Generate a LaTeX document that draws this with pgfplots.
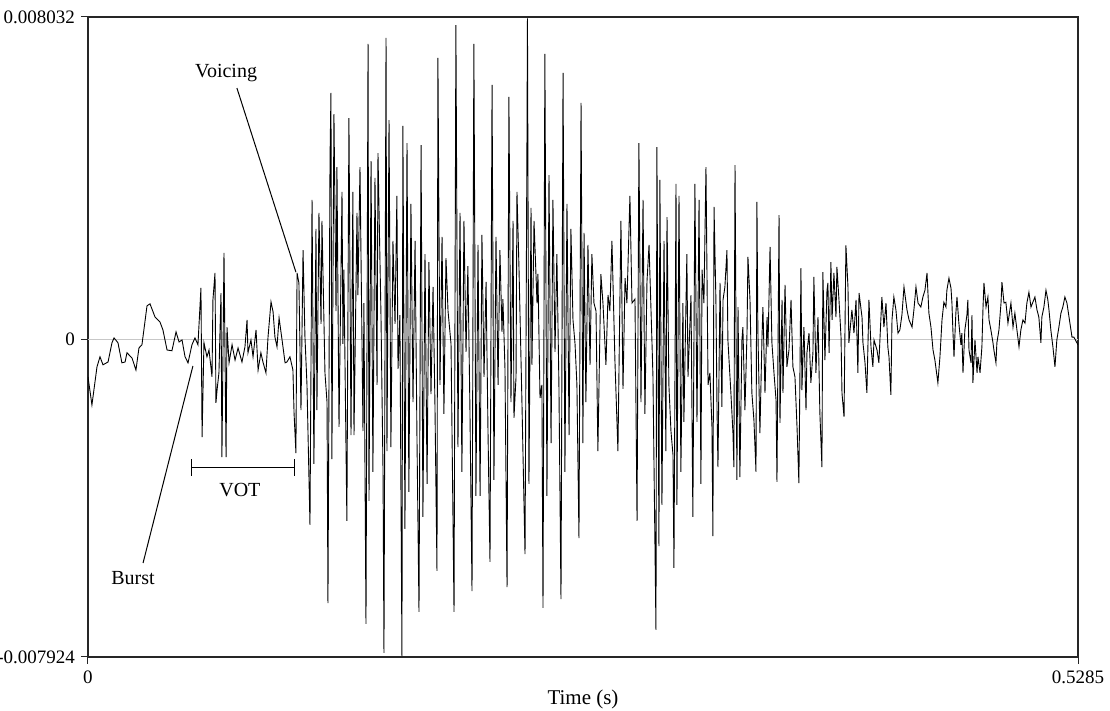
\documentclass[border=0pt]{standalone}
\usepackage{fontspec}
\setmainfont{Liberation Serif}
\usepackage{pgfplots}
\pgfplotsset{compat=1.18}

% time in ms, amplitude in units of 1e-5
\begin{document}
\begin{tikzpicture}
\begin{axis}[
  name=ax,
  scale only axis,
  width=495pt, height=320pt,
  xmin=0, xmax=528.5,
  ymin=-792.4, ymax=803.2,
  xtick={0,528.5}, xticklabels={0,0.5285},
  ytick={-792.4,0,803.2}, yticklabels={-0.007924,0,0.008032},
  xtick pos=lower, ytick pos=left,
  tick align=outside,
  major tick length=3.5pt,
  ticklabel style={font=\fontsize{9.5}{11}\selectfont},
  y tick label style={xshift=0.5pt},
  /pgf/number format/assume math mode=true,
  xlabel={Time (s)},
  xlabel style={font=\fontsize{10.5}{12}\selectfont, yshift=4pt},
  axis line style={black!85, line width=0.6pt},
  tick style={black!85, line width=0.5pt},
]
\draw[black!22, line width=0.5pt] (axis cs:0,0) -- (axis cs:528.5,0);
\addplot[black, line width=0.45pt] coordinates {
(0,-94) (2.1,-164) (4.8,-69) (6.4,-44) (8.0,-64) (10.7,-57) (12.8,-9) (13.9,3)
(16.0,-9) (18.1,-59) (19.8,-57) (20.8,-34) (23.5,-47) (25.6,-77) (27.2,-22) (28.8,-14)
(31.5,83) (33.1,88) (35.8,55) (38.4,43) (40.0,23) (42.2,-27) (44.8,-29) (47.0,18)
(48.6,-7) (50.2,-2) (51.8,-44) (53.4,-59) (55.5,-14) (57.1,3) (58.7,-14) (60.3,128)
(60.9,-244) (61.9,-9) (63.5,-44) (64.6,-27) (66.2,-94) (66.7,98) (67.8,165) (68.3,-159)
(68.9,-127) (69.9,-84) (71.0,115) (71.5,-294) (72.6,215) (73.7,-294) (74.2,30) (75.3,-59)
(76.9,-14) (78.5,-52) (80.1,-22) (82.2,-57) (83.8,-19) (84.9,48) (85.4,-34) (87.0,-2)
(88.1,-44) (89.7,23) (90.8,-77) (92.3,-34) (93.4,-57) (95.0,-84) (96.1,5) (97.7,93)
(98.8,68) (99.8,5) (100.9,-19) (102.0,53) (103.6,-2) (105.2,-59) (106.2,-57) (107.8,-44)
(109.4,-77) (110.0,-184) (111.0,-284) (111.6,165) (112.6,140)
(113.7,-177) (114.8,222) (115.8,8) (116.9,-114) (118.5,-463) (119.6,347) (120.6,-311) (121.7,275)
(122.2,-177) (123.3,315) (124.4,38) (124.9,295) (126.5,-84) (127.6,-157) (128.1,-658) (129.2,449)
(129.7,614) (130.2,-299) (131.3,561) (132.4,70) (132.9,429) (134.0,-219) (135.6,367) (136.1,-12)
(136.6,173) (138.2,-453) (139.3,551) (140.4,-239) (141.4,367) (142.0,-239) (143.6,315) (144.1,110)
(145.2,429) (146.8,-229) (147.3,90) (148.4,-710) (149.5,736) (150.0,-403) (151.1,444) (152.1,-331)
(153.2,402) (154.3,-114) (154.8,464) (156.4,60) (157.5,-331) (158.0,-782) (159.1,751) (159.6,-279)
(160.7,546) (161.7,-269) (162.8,245) (163.9,38) (164.9,357) (165.5,-74) (166.5,60) (167.6,-790)
(168.1,532) (169.2,-473) (170.3,489) (171.3,-381) (172.4,337) (173.5,-157) (174.6,245) (175.6,-239)
(176.7,-680) (177.8,484) (178.8,-443) (179.9,212) (181.0,-361) (182.0,192) (183.1,-137) (184.2,130)
(185.2,-157) (186.3,-578) (186.8,701) (187.9,-114) (189.0,255) (190.0,-186) (191.1,202) (192.2,70)
(193.8,-12) (195.4,-680) (196.4,783) (197.5,-269) (198.6,315) (199.6,-331) (200.7,295) (201.8,-32)
(202.8,182) (203.9,-177) (205.0,-628) (206.0,736) (207.1,-391) (208.2,235) (209.3,-391) (210.3,260)
(211.4,-94) (212.5,143) (213.5,-219) (214.6,-555) (215.7,634) (216.7,-351) (217.8,255) (218.9,-114)
(219.9,222) (221.0,18) (221.5,100) (222.6,-74) (223.7,-618) (224.7,604) (225.8,-157) (226.9,295)
(227.4,-196) (228.5,-94) (229.0,367) (230.1,173) (231.7,-167) (233.3,-536) (234.3,459) (234.6,800)
(235.4,-361) (236.5,327) (237.0,-64) (238.1,295) (239.7,90) (240.2,163) (241.3,-147) (242.3,-114)
(242.9,-670) (243.9,711) (245.0,-391) (246.1,409) (247.2,-259) (248.2,347) (249.3,-32) (250.3,212)
(251.4,-114) (252.5,-648) (253.6,664) (254.6,-331) (255.7,337) (256.8,-239) (257.8,275) (258.9,48)
(260.0,-12) (261.0,-114) (262.1,-496) (263.2,589) (264.2,-259) (264.8,265) (265.8,-157) (266.9,235)
(268.0,-64) (269.0,212) (270.1,90) (271.2,70) (272.2,-279) (273.8,162) (274.9,90) (276.5,-64)
(277.6,110) (278.6,70) (279.7,245) (281.3,-54) (282.9,-279) (284.5,295) (285.6,-124) (286.7,152)
(287.7,90) (289.3,357) (290.4,90) (292.0,100) (293.1,-453) (294.1,489) (295.2,-157) (296.3,347)
(297.3,-186) (298.4,143) (299.5,235) (301.1,-12) (301.6,-94) (303.2,-725) (303.7,479) (304.8,-516)
(305.3,397) (306.4,-413) (307.5,245) (308.5,-279) (309.1,304) (310.1,-114) (311.2,-229) (312.3,-289)
(312.8,-570) (313.9,387) (314.4,-413) (315.5,357) (316.5,-331) (317.6,90) (318.1,-206) (319.7,212)
(320.3,-94) (321.9,110) (322.9,-443) (324.0,387) (325.1,-206) (326.2,347) (327.2,-361) (327.8,173)
(328.8,90) (329.9,429) (331.0,-114) (332.0,-84) (333.1,-219) (333.6,-491) (334.2,330) (335.2,98)
(335.8,-177) (336.3,-319) (337.4,140) (338.4,-169) (339.0,98) (340.0,130) (341.1,222) (341.6,-2)
(343.2,-134) (344.3,-234) (344.8,-319) (345.4,434) (346.4,-351) (347.0,80) (348.0,-344) (349.1,-2)
(349.6,30) (350.7,-177) (351.8,15) (352.3,205) (353.4,98) (354.4,-134) (355.5,-202) (356.6,-331)
(357.1,342) (357.6,23) (358.7,-234) (359.8,5) (360.3,80) (361.4,-134) (362.5,55) (363.0,-20)
(364.1,230) (365.1,-9) (366.2,-84) (367.3,-152) (367.8,-356) (368.9,309) (369.4,-209) (370.5,98)
(371.0,-134) (372.1,135) (373.1,-69) (374.2,-27) (375.3,98) (376.3,-69) (377.4,-94) (378.5,-219)
(379.5,-359) (380.6,177) (381.1,-127) (382.2,30) (383.3,-177) (383.8,-34) (384.9,15) (385.9,-109)
(387.0,-34) (387.5,155) (388.6,-84) (389.7,55) (390.7,-184) (391.8,-319) (392.3,167) (393.4,-52)
(394.5,122) (395.0,140) (395.6,-34) (396.6,192) (397.2,48) (398.2,165) (399.3,55) (399.8,180)
(400.9,98) (402.0,5) (402.5,-134) (403.6,-194) (404.6,234) (405.7,130) (406.2,-9) (407.8,73)
(408.9,15) (410.0,98) (411.0,-84) (411.6,115) (413.2,55) (413.7,-9) (414.8,-59) (415.8,-134)
(416.9,98) (418.0,-20) (419.0,-69) (419.6,-2) (421.2,-27) (422.2,-59) (423.8,105) (424.9,30)
(426.0,90) (427.0,-20) (427.6,-44) (428.6,-139) (429.2,48) (430.2,105) (431.3,73) (432.4,15)
(433.4,23) (434.5,60) (435.6,130) (437.2,73) (438.3,48) (439.9,30) (440.9,73) (442.0,130)
(443.1,90) (444.6,80) (445.7,105) (446.8,122) (447.9,165) (448.9,65) (450.0,30) (451.1,-27)
(452.1,-52) (453.7,-109) (454.8,-44) (455.9,48) (456.9,92) (458.0,80) (458.5,122) (459.6,152)
(460.7,127) (461.2,90) (461.7,23) (462.3,-44) (463.3,65) (463.9,105) (464.9,40) (466.0,-14)
(466.5,15) (467.1,-84) (468.1,23) (469.2,60) (469.7,98) (470.3,-27) (471.4,-59) (471.9,60)
(472.4,-109) (473.5,-2) (474.6,-84) (475.1,-44) (476.2,-84) (477.2,-19) (477.8,80) (478.3,140)
(479.4,80) (480.4,105) (481.0,48) (482.0,23) (483.1,-9) (483.6,-27) (484.7,-59) (485.2,-9)
(486.3,23) (487.4,90) (487.9,142) (489.0,90) (490.0,92) (491.1,40) (492.7,90) (493.8,30)
(494.8,65) (495.9,23) (497.0,-19) (498.0,23) (499.1,48) (500.2,40) (501.2,90) (502.3,117)
(503.4,80) (504.4,92) (505.5,105) (506.6,73) (507.6,55) (508.7,-9) (509.2,55) (510.3,80)
(511.4,122) (512.4,98) (513.0,73) (514.0,23) (515.1,-19) (516.2,-69) (517.2,-2) (518.3,30)
(519.4,65) (520.4,80) (521.5,105) (522.6,90) (523.7,55) (525.3,5) (526.3,5) (527.9,-9)
(528.5,-14)
};
% annotations
\node[font=\fontsize{10}{12}\selectfont] at (axis cs:73.7,664) {Voicing};
\draw[black, line width=0.5pt] (axis cs:79.5,626) -- (axis cs:111.0,167);
\node[font=\fontsize{10}{12}\selectfont] at (axis cs:24.0,-596) {Burst};
\draw[black, line width=0.5pt] (axis cs:29.4,-558) -- (axis cs:56.0,-67);
\draw[black, line width=0.5pt] (axis cs:55.0,-319) -- (axis cs:110.5,-319);
\draw[black, line width=0.5pt] (axis cs:55.0,-299) -- (axis cs:55.0,-341);
\draw[black, line width=0.5pt] (axis cs:110.5,-299) -- (axis cs:110.5,-341);
\node[font=\fontsize{10}{12}\selectfont] at (axis cs:81.1,-376) {VOT};
\end{axis}
\pgfresetboundingbox
\path ([xshift=-44pt,yshift=-27pt]ax.south west) rectangle ([xshift=16pt,yshift=8.5pt]ax.north east);
\end{tikzpicture}
\end{document}
